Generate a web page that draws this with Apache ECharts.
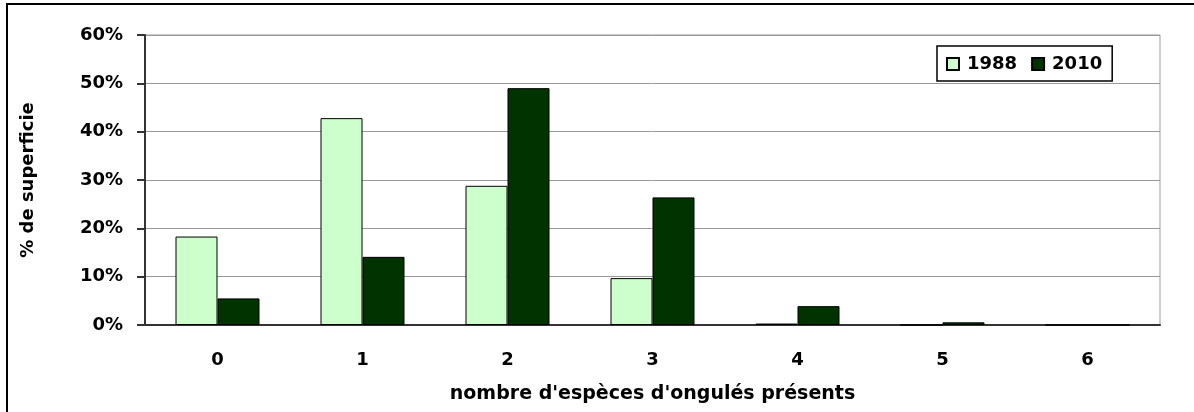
<!DOCTYPE html>
<html>

<head>
	<meta charset="utf-8">
	<title>ECharts</title>
	<script src="https://cdn.jsdelivr.net/npm/echarts@6/dist/echarts.min.js"></script>
	<style>
		body { margin: 0; background: #fff; }
	</style>
</head>

<body>
	<div id="chart1" style="width: 1194px;height:412px;"></div>
	<script type="text/javascript">
		// nombre d'espèces présentes
		var categories = ['0', '1', '2', '3', '4', '5', '6'];
		var serie1988 = [18.3, 42.8, 28.8, 9.7, 0.3, 0, 0];
		var serie2010 = [5.5, 14.1, 49.0, 26.4, 3.9, 0.55, 0];
		var yTicks = [0, 10, 20, 30, 40, 50, 60];

		var font = 'DejaVu Sans';

		var myChart1 = echarts.init(document.getElementById('chart1'));
		var option1 = {
			animation: false,
			backgroundColor: '#fff',
			graphic: [{
				type: 'rect',
				shape: { x: 7, y: 4, width: 1200, height: 420 },
				style: { fill: 'none', stroke: '#000', lineWidth: 2 },
				silent: true
			}],
			grid: {
				left: 145, right: 34, top: 35, bottom: 87,
				show: true, borderColor: '#999', borderWidth: 1
			},
			legend: {
				left: 937, top: 46,
				padding: [9, 10, 8, 9],
				itemGap: 14,
				itemWidth: 12, itemHeight: 12,
				borderColor: '#000', borderWidth: 1.5,
				backgroundColor: '#fff',
				icon: 'rect',
				textStyle: { fontFamily: font, fontWeight: 'bold', fontSize: 18, color: '#000', padding: [0, 0, 0, 3] },
				data: ['1988', '2010']
			},
			xAxis: {
				type: 'category',
				data: categories,
				name: "nombre d'espèces d'ongulés présents",
				nameLocation: 'middle',
				nameGap: 60,
				nameTextStyle: { fontFamily: font, fontWeight: 'bold', fontSize: 19, color: '#000' },
				axisLine: { lineStyle: { color: '#333', width: 2 } },
				axisTick: { length: 8, lineStyle: { color: '#333', width: 2 } },
				axisLabel: { margin: 26, fontFamily: font, fontWeight: 'bold', fontSize: 18, color: '#000' }
			},
			yAxis: {
				type: 'value',
				min: 0, max: 60, interval: 10,
				name: '% de superficie',
				nameLocation: 'middle',
				nameGap: 108,
				nameTextStyle: { fontFamily: font, fontWeight: 'bold', fontSize: 18, color: '#000' },
				axisLine: { show: true, lineStyle: { color: '#333', width: 2 } },
				axisTick: { show: true, length: 8, lineStyle: { color: '#333', width: 2 } },
				axisLabel: {
					margin: 22, fontFamily: font, fontWeight: 'bold', fontSize: 18, color: '#000',
					formatter: function (v) { return yTicks.indexOf(v) >= 0 ? v + '%' : ''; }
				},
				splitLine: { lineStyle: { color: '#999', width: 1 } }
			},
			series: [{
				name: '1988',
				type: 'bar',
				data: serie1988,
				barWidth: 42,
				barGap: '0%',
				itemStyle: { color: '#CCFFCC', borderColor: '#000', borderWidth: 1 }
			}, {
				name: '2010',
				type: 'bar',
				data: serie2010,
				barWidth: 42,
				barGap: '0%',
				itemStyle: { color: '#003300', borderColor: '#000', borderWidth: 1 }
			}]
		};
		myChart1.setOption(option1);
	</script>
</body>

</html>
